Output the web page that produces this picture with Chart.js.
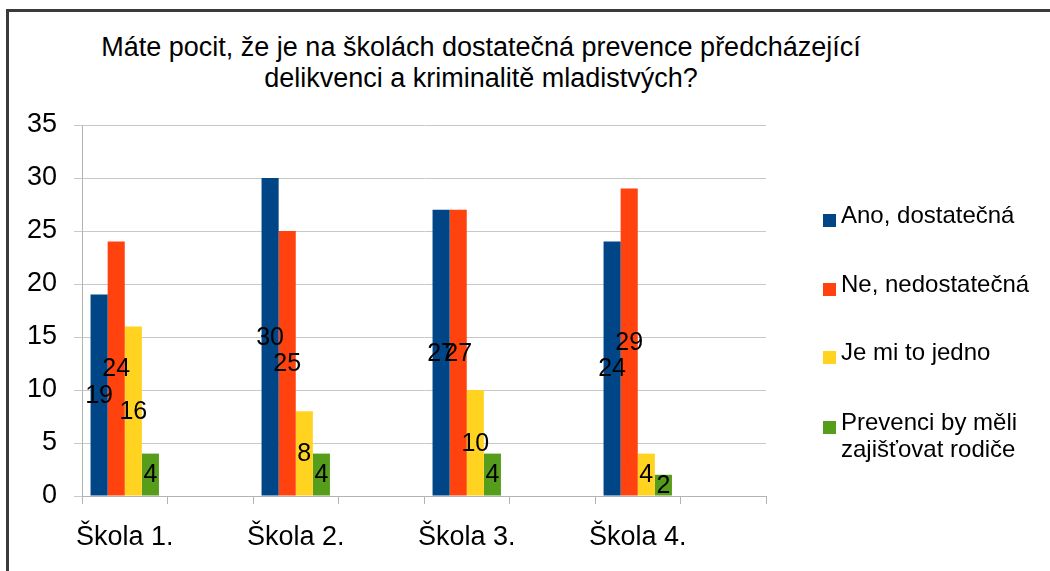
<!DOCTYPE html>
<html lang="cs">
<head>
<meta charset="utf-8">
<title>Prevence delikvence</title>
<script src="https://cdn.jsdelivr.net/npm/chart.js@4/dist/chart.umd.min.js"></script>
<style>
  html, body { margin: 0; padding: 0; background: #fff; }
  body { width: 1050px; height: 571px; position: relative; overflow: hidden;
         font-family: "Liberation Sans", Arial, sans-serif; color: #000; }
  #frame { position: absolute; left: 6px; top: 9px; width: 1100px; height: 600px;
           border-left: 3px solid #3a3a3a; border-top: 3px solid #3a3a3a; box-sizing: border-box; }
  #chart { position: absolute; left: 0; top: 0; }
  #title { position: absolute; left: 0; top: 32px; width: 962px; text-align: center;
           font-size: 27px; line-height: 31px; }
  .legend-item { position: absolute; left: 823px; font-size: 24px; line-height: 27px; }
  .legend-box { position: absolute; left: 0; width: 13px; height: 13px; }
  .legend-text { position: absolute; left: 18px; white-space: nowrap; }
</style>
</head>
<body>
<div id="frame"></div>
<div id="title">Máte pocit, že je na školách dostatečná prevence předcházející<br>delikvenci a kriminalitě mladistvých?</div>
<canvas id="chart" width="1050" height="571"></canvas>
<div id="legend"></div>
<script>
  // Schools (every school is followed by an empty slot on the axis)
  const schools = ["Škola 1.", "Škola 2.", "Škola 3.", "Škola 4."];

  // Answers per school
  const anoDostatecna = [19, 30, 27, 24];
  const neNedostatecna = [24, 25, 27, 29];
  const jeMiToJedno = [16, 8, 10, 4];
  const rodice = [4, 4, 4, 2];

  const seriesNames = ["Ano, dostatečná", "Ne, nedostatečná", "Je mi to jedno", ["Prevenci by měli", "zajišťovat rodiče"]];
  const seriesColors = ["#004586", "#ff420e", "#ffd320", "#579d1c"];

  // Y axis
  const yMin = 0, yMax = 35, yStep = 5;

  // Interleave an empty category after each school
  const labels = [];
  schools.forEach(s => { labels.push(s); labels.push(""); });
  function spread(values) {
    const out = [];
    values.forEach(v => { out.push(v); out.push(null); });
    return out;
  }

  const allSeries = [anoDostatecna, neNedostatecna, jeMiToJedno, rodice];
  const datasets = allSeries.map((vals, i) => ({
    label: Array.isArray(seriesNames[i]) ? seriesNames[i].join(" ") : seriesNames[i],
    data: spread(vals),
    backgroundColor: seriesColors[i],
    borderWidth: 0,
    categoryPercentage: 0.8,
    barPercentage: 1.0
  }));

  const family = "'Liberation Sans', Arial, sans-serif";
  const axisFont = { family: family, size: 27 };
  const valueFont = { family: family, size: 25 };

  // Value labels drawn in the middle of each bar
  const valueLabels = {
    id: "valueLabels",
    afterDatasetsDraw(chart) {
      const ctx = chart.ctx;
      ctx.save();
      ctx.font = valueFont.size + "px " + valueFont.family;
      ctx.fillStyle = "#000";
      ctx.textAlign = "center";
      ctx.textBaseline = "middle";
      chart.data.datasets.forEach((ds, di) => {
        const meta = chart.getDatasetMeta(di);
        meta.data.forEach((bar, j) => {
          const v = ds.data[j];
          if (v === null || v === undefined) return;
          ctx.fillText(String(v), bar.x, (bar.y + bar.base) / 2 + 1);
        });
      });
      ctx.restore();
    }
  };

  const ctxChart = document.getElementById("chart").getContext("2d");
  const chart = new Chart(ctxChart, {
    type: "bar",
    data: { labels: labels, datasets: datasets },
    plugins: [valueLabels],
    options: {
      responsive: false,
      animation: false,
      layout: { padding: { top: 125, left: 0, right: 284, bottom: 0 } },
      plugins: {
        legend: { display: false },
        title: { display: false },
        tooltip: { enabled: false }
      },
      scales: {
        x: {
          offset: true,
          grid: {
            offset: true,
            drawOnChartArea: true,
            color: c => c.index === labels.length ? "#d6d6d6" : "rgba(0,0,0,0)",
            tickColor: "#b3b3b3",
            tickLength: 8
          },
          border: { color: "#b3b3b3", width: 1 },
          ticks: { color: "#000", font: axisFont, padding: 17, autoSkip: false, maxRotation: 0 },
          afterFit: s => { s.height = 75; }
        },
        y: {
          min: yMin,
          max: yMax,
          ticks: { stepSize: yStep, color: "#000", font: axisFont, padding: 17 },
          grid: { color: "#c8c8c8", tickColor: "#c8c8c8", tickLength: 8 },
          border: { color: "#b3b3b3", width: 1 },
          afterFit: s => { s.width = 82; }
        }
      }
    }
  });

  // Legend on the right
  const legend = document.getElementById("legend");
  const legendTops = [201, 270, 338, 408];
  seriesNames.forEach((name, i) => {
    const item = document.createElement("div");
    item.className = "legend-item";
    item.style.top = legendTops[i] + "px";
    const box = document.createElement("div");
    box.className = "legend-box";
    box.style.background = seriesColors[i];
    box.style.top = "13px";
    const text = document.createElement("div");
    text.className = "legend-text";
    text.innerHTML = Array.isArray(name) ? name.join("<br>") : name;
    item.appendChild(box);
    item.appendChild(text);
    legend.appendChild(item);
  });
</script>
</body>
</html>
